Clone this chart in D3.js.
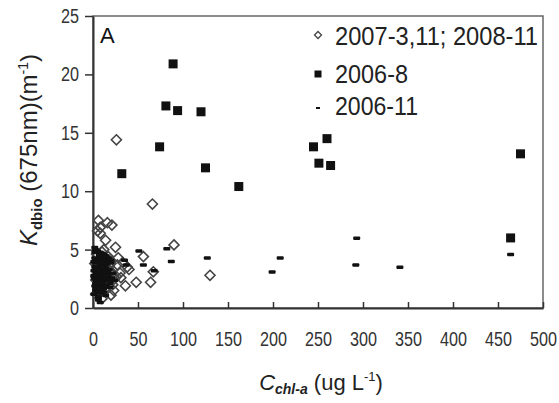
<!DOCTYPE html>
<html>
<head>
<meta charset="utf-8">
<script src="https://cdn.jsdelivr.net/npm/d3@7"></script>
<style>
  body { margin: 0; background: #fff; }
  svg { display: block; }
</style>
</head>
<body>
<div id="chart"></div>
<script>
// 2007-3,11; 2008-11 (open diamonds)
var diamondX = [26, 66, 6, 16, 21, 8, 14, 25, 90, 56, 130, 67, 64, 48, 36, 30, 40, 20, 10, 28,
                3, 5, 9, 12, 15, 18, 22, 4, 7, 11, 13, 17, 19, 24, 2, 6, 10, 14, 23, 33, 38, 27, 31, 16,
                5, 8, 12, 18, 21, 26, 3, 9, 15, 20];
var diamondY = [14.4, 8.9, 7.5, 7.3, 7.1, 6.4, 5.8, 5.2, 5.4, 4.4, 2.8, 3.1, 2.2, 2.2, 1.9, 3.0, 3.3, 1.1, 0.8, 4.3,
                2.4, 3.1, 1.9, 4.0, 2.6, 3.6, 2.0, 4.6, 1.4, 2.9, 1.6, 4.4, 3.2, 2.5, 3.8, 2.1, 4.8, 3.5, 1.5, 3.9, 3.5, 3.7, 2.6, 2.3,
                6.6, 6.9, 5.0, 4.1, 2.9, 2.7, 1.2, 3.3, 4.2, 3.8];

// 2006-8 (filled squares)
var squareX = [32, 74, 81, 89, 94, 120, 125, 162, 260, 245, 251, 264, 475, 464];
var squareY = [11.5, 13.8, 17.3, 20.9, 16.9, 16.8, 12.0, 10.4, 14.5, 13.8, 12.4, 12.2, 13.2, 6.0];

// 2006-11 (short dashes)
var dashX = [293, 292, 341, 464, 208, 199, 127, 87, 82, 51, 56, 68,
             1, 2, 3, 4, 5, 6, 7, 8, 9, 10, 11, 12, 13, 14, 15, 16, 17, 18, 19, 20,
             1, 2, 3, 4, 5, 6, 7, 8, 9, 10, 11, 12, 13, 14, 15, 3, 5, 7, 9, 2, 4, 6, 8, 10,
             1, 3, 5, 7, 11, 13, 15, 17, 2, 6, 8, 12, 4, 9, 14, 35, 37, 8, 6,
             1, 2, 3, 4, 5, 6, 7, 8, 9, 10, 11, 12, 13, 14, 16, 18, 2, 4, 6, 8, 10, 12, 14, 3, 5, 7, 9, 11,
             1, 2, 4, 6, 8, 10, 3, 5, 7, 9, 12, 15, 20, 22, 24, 19, 21];
var dashY = [6.0, 3.7, 3.5, 4.6, 4.3, 3.1, 4.3, 4.0, 5.1, 4.9, 3.7, 3.2,
             3.2, 2.5, 4.1, 1.8, 3.6, 2.9, 4.4, 2.2, 3.8, 1.6, 3.0, 4.6, 2.4, 3.4, 1.9, 4.0, 2.7, 3.3, 2.1, 3.9,
             1.2, 4.8, 2.0, 3.0, 1.5, 4.2, 3.5, 1.3, 2.6, 4.7, 1.9, 2.8, 3.7, 1.1, 2.5, 5.0, 4.9, 2.4, 4.5, 3.9, 2.7, 1.0, 3.1, 4.3,
             2.8, 1.5, 2.2, 3.3, 4.1, 3.6, 2.9, 4.3, 5.2, 0.9, 4.8, 1.7, 3.4, 2.0, 3.8, 4.1, 3.7, 0.5, 0.7,
             2.7, 3.5, 1.6, 2.3, 4.0, 1.7, 2.6, 3.9, 1.9, 3.3, 2.2, 1.4, 4.2, 2.7, 3.1, 2.4, 1.9, 3.0, 2.5, 1.8, 3.6, 2.0, 4.5, 2.1, 3.2, 1.4, 4.1, 2.5,
             4.0, 4.3, 3.3, 3.9, 2.9, 3.8, 3.6, 2.7, 4.6, 2.2, 3.1, 3.8, 4.1, 3.0, 2.4, 1.8, 2.6];

var xTicks = [0, 50, 100, 150, 200, 250, 300, 350, 400, 450, 500];
var yTicks = [0, 5, 10, 15, 20, 25];

var legendLabels = ["2007-3,11; 2008-11", "2006-8", "2006-11"];

var W = 559, H = 403;
var margin = { top: 16, right: 16, bottom: 95, left: 93 };
var width = W - margin.left - margin.right;
var height = H - margin.top - margin.bottom;

var svg = d3.select("#chart").append("svg")
    .attr("width", W)
    .attr("height", H);

var g = svg.append("g")
    .attr("transform", "translate(" + margin.left + "," + margin.top + ")");

var x = d3.scaleLinear().domain([0, 500]).range([0, width]);
var y = d3.scaleLinear().domain([0, 25]).range([height, 0]);

// frame
g.append("rect")
    .attr("width", width)
    .attr("height", height)
    .attr("fill", "none")
    .attr("stroke", "#666")
    .attr("stroke-width", 1.5);

// narrow looking tick labels (no condensed font installed)
function styleTicks(sel) {
    sel.select(".domain").attr("stroke", "#333").attr("stroke-width", 2);
    sel.selectAll(".tick line").attr("stroke", "#333").attr("stroke-width", 1.5);
    sel.selectAll(".tick text")
        .attr("font-family", "Liberation Sans, Arial, sans-serif")
        .attr("font-size", 20)
        .attr("fill", "#333")
        .attr("textLength", function (d) { return String(d).length * 9; })
        .attr("lengthAdjust", "spacingAndGlyphs");
}

var xAxis = g.append("g")
    .attr("transform", "translate(0," + height + ")")
    .call(d3.axisBottom(x).tickValues(xTicks).tickSizeInner(-6).tickSizeOuter(0).tickPadding(24));
styleTicks(xAxis);

var yAxis = g.append("g")
    .call(d3.axisLeft(y).tickValues(yTicks).tickSizeInner(8).tickSizeOuter(0).tickPadding(6));
styleTicks(yAxis);

var diamondPath = "M0,-5L5,0L0,5L-5,0Z";

// diamonds
g.selectAll(".dia")
    .data(diamondX.map(function (d, i) { return [d, diamondY[i]]; }))
    .enter().append("path")
    .attr("class", "dia")
    .attr("d", diamondPath)
    .attr("transform", function (d) { return "translate(" + x(d[0]) + "," + y(d[1]) + ")"; })
    .attr("fill", "none")
    .attr("stroke", "#444")
    .attr("stroke-width", 1.6);

// dashes
g.selectAll(".dash")
    .data(dashX.map(function (d, i) { return [d, dashY[i]]; }))
    .enter().append("rect")
    .attr("class", "dash")
    .attr("x", function (d) { return x(d[0]) - 3.5; })
    .attr("y", function (d) { return y(d[1]) - 1.5; })
    .attr("width", 7)
    .attr("height", 3.5)
    .attr("rx", 1)
    .attr("fill", "#111");

// squares
g.selectAll(".sq")
    .data(squareX.map(function (d, i) { return [d, squareY[i]]; }))
    .enter().append("rect")
    .attr("class", "sq")
    .attr("x", function (d) { return x(d[0]) - 4.5; })
    .attr("y", function (d) { return y(d[1]) - 4.5; })
    .attr("width", 9)
    .attr("height", 9)
    .attr("fill", "#111");

// panel letter
g.append("text")
    .attr("x", 7)
    .attr("y", 27)
    .attr("font-family", "Liberation Sans, Arial, sans-serif")
    .attr("font-size", 22)
    .attr("fill", "#111")
    .text("A");

// legend
var leg = g.append("g").attr("transform", "translate(225,0)");
var legY = [19, 58, 92];
var legBase = [29, 67, 99];
var legLen = [203, 73, 83];
legendLabels.forEach(function (t, i) {
    var row = leg.append("g").attr("transform", "translate(0," + legY[i] + ")");
    if (i === 0) {
        row.append("path").attr("d", "M0,-3.5L3.5,0L0,3.5L-3.5,0Z")
            .attr("fill", "none").attr("stroke", "#444").attr("stroke-width", 1.3);
    } else if (i === 1) {
        row.append("rect").attr("x", -3.5).attr("y", -3.5).attr("width", 7).attr("height", 7).attr("fill", "#111");
    } else {
        row.append("rect").attr("x", -2).attr("y", -1).attr("width", 4).attr("height", 2).attr("fill", "#111");
    }
    leg.append("text")
        .attr("x", 17)
        .attr("y", legBase[i])
        .attr("font-family", "Liberation Sans, Arial, sans-serif")
        .attr("font-size", 26)
        .attr("fill", "#222")
        .attr("textLength", legLen[i])
        .attr("lengthAdjust", "spacingAndGlyphs")
        .text(t);
});

// y label
var yl = svg.append("text")
    .attr("transform", "translate(37,150) rotate(-90)")
    .attr("text-anchor", "middle")
    .attr("font-family", "Liberation Sans, Arial, sans-serif")
    .attr("font-size", 24)
    .attr("fill", "#222");
yl.append("tspan").attr("font-style", "italic").text("K");
yl.append("tspan").attr("font-size", 15).attr("font-weight", "bold").attr("dy", 5).text("dbio");
yl.append("tspan").attr("dy", -5).text(" (675nm)(m");
yl.append("tspan").attr("font-size", 14).attr("dy", -9).text("-1");
yl.append("tspan").attr("dy", 9).text(")");

// x label
var xl = svg.append("text")
    .attr("transform", "translate(321,390)")
    .attr("text-anchor", "middle")
    .attr("font-family", "Liberation Sans, Arial, sans-serif")
    .attr("font-size", 22)
    .attr("fill", "#222");
xl.append("tspan").attr("font-style", "italic").text("C");
xl.append("tspan").attr("font-size", 14).attr("font-style", "italic").attr("font-weight", "bold").attr("dy", 4).text("chl-a");
xl.append("tspan").attr("dy", -4).text(" (ug L");
xl.append("tspan").attr("font-size", 13).attr("dy", -9).text("-1");
xl.append("tspan").attr("dy", 9).text(")");
</script>
</body>
</html>
